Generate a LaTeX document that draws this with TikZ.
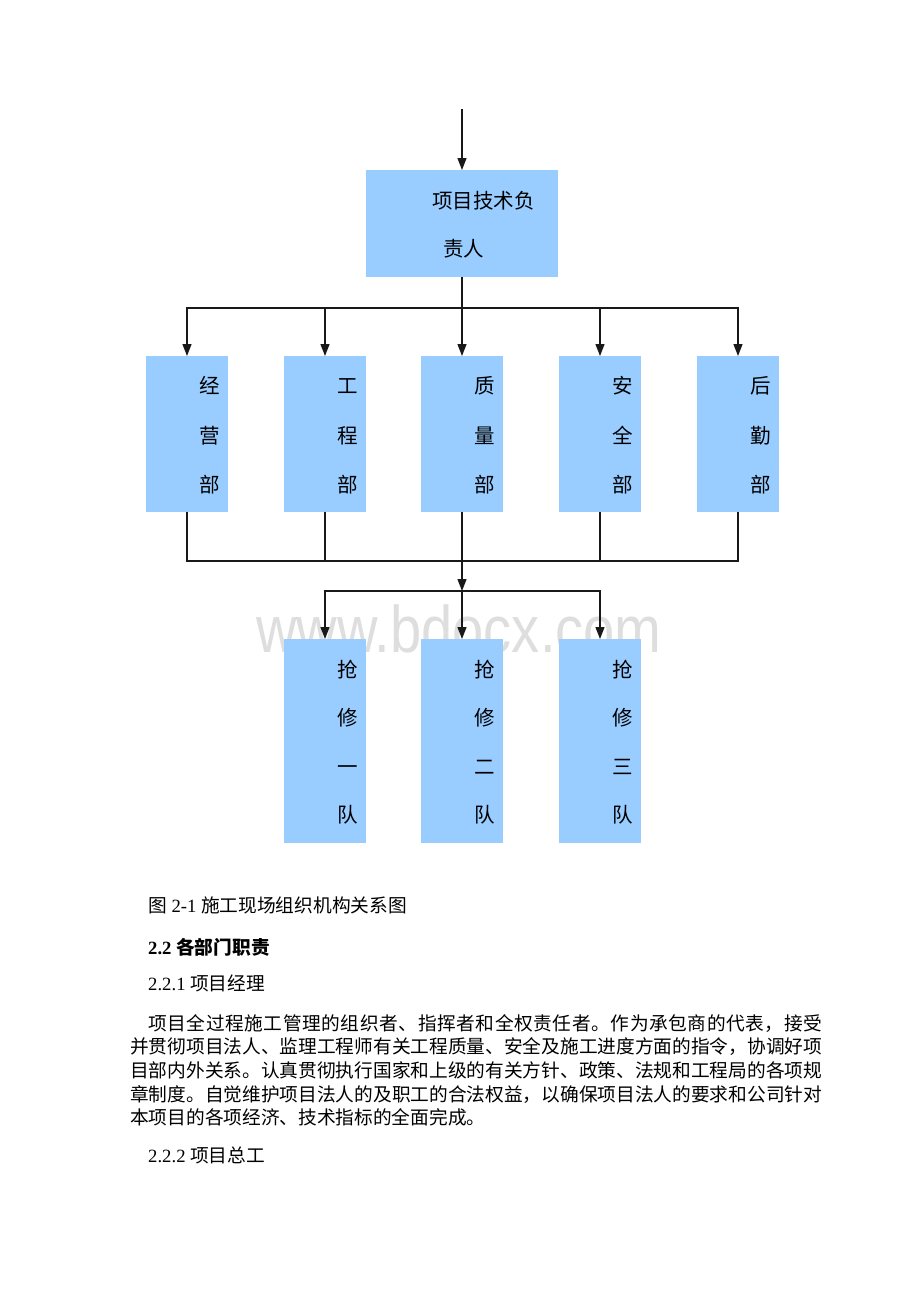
\documentclass[tikz,border=0pt]{standalone}
\usepackage{fontspec}
\setmainfont{Liberation Serif}
\newfontfamily\cjk{Noto Sans CJK SC}
\newfontfamily\wmfont{Liberation Sans}
\usetikzlibrary{arrows.meta}
\definecolor{boxblue}{RGB}{153,204,255}
\definecolor{linec}{RGB}{25,25,25}
\newcommand\zh[1]{{\cjk #1}}
\newcommand\SpreadLine[2]{\hbox to #1{\SpreadA#2\relax}}
\def\SpreadA#1{#1\SpreadB}
\def\SpreadB#1{\ifx#1\relax\else\hfil#1\expandafter\SpreadB\fi}
\begin{document}
\begin{tikzpicture}[x=1pt,y=-1pt,
  box/.style={fill=boxblue,draw=none,inner sep=0pt,outer sep=0pt},
  dept/.style={box,minimum width=82pt,minimum height=156pt},
  team/.style={box,minimum width=82pt,minimum height=204pt},
  ln/.style={draw=linec,line width=1.3pt},
  arr/.style={ln,-{Triangle[width=9pt,length=12pt]}},
  lab/.style={font=\cjk\fontsize{20.5}{24}\selectfont,inner sep=0pt,anchor=base,text=black},
  body/.style={font=\fontsize{18.7}{22}\selectfont,inner sep=0pt,anchor=base west,text=black},
  pline/.style={body,font=\cjk\fontsize{18.7}{22}\selectfont},
]
\useasboundingbox (0,0) rectangle (920,1302);
\fill[white] (0,0) rectangle (920,1302);

% watermark (behind the boxes)
\node[text=black, opacity=0.13, font=\wmfont\fontsize{66}{70}\selectfont, inner sep=0pt, anchor=base] (wm) at (459,652) {\scalebox{0.85}[1]{www.bdocx.com}};

% top box
\coordinate (src) at (462,109);
\node[box,minimum width=192pt,minimum height=107pt] (top) at (462,223.5) {};
\node[lab,anchor=base west] (topa) at (432,208) {项目技术负};
\node[lab,anchor=base west] (topb) at (443,256) {责人};
\draw[arr] (src) -- (top.north);

% departments
\foreach \n/\x/\a/\b/\c in {d1/187/经/营/部, d2/325/工/程/部, d3/462/质/量/部, d4/600/安/全/部, d5/738/后/勤/部} {
  \node[dept] (\n) at (\x,434) {};
  \node[lab] (\n-a) at (\x+23,393) {\a};
  \node[lab] (\n-b) at (\x+23,443) {\b};
  \node[lab] (\n-c) at (\x+23,492) {\c};
}
\coordinate (b1) at (462,308);
\draw[ln] (top.south) -- (b1);
\foreach \n in {d1,d2,d3,d4,d5} \draw[arr] (b1) -| (\n.north);

% teams
\foreach \n/\x/\c in {q1/325/一, q2/462/二, q3/600/三} {
  \node[team] (\n) at (\x,741) {};
  \node[lab] (\n-a) at (\x+23,677) {抢};
  \node[lab] (\n-b) at (\x+23,725) {修};
  \node[lab] (\n-c) at (\x+23,774) {\c};
  \node[lab] (\n-d) at (\x+23,822) {队};
}
\coordinate (b2) at (462,561);
\coordinate (b3) at (462,591);
\foreach \n in {d1,d2,d3,d4,d5} \draw[ln] (\n.south) |- (b2);
\draw[arr] (b2) -- (b3);
\foreach \n in {q1,q2,q3} \draw[arr] (b3) -| (\n.north);

% text below
\node[body] (cap) at (148,912) {\zh{图} 2-1 \zh{施工现场组织机构关系图}};
\node[body,font=\bfseries\fontsize{18.7}{22}\selectfont] (h22) at (148,954) {2.2 \zh{\bfseries 各部门职责}};
\node[body] (h221) at (148,990) {2.2.1 \zh{项目经理}};
\node[pline] (p1) at (148,1030) {\SpreadLine{674pt}{项目全过程施工管理的组织者、指挥者和全权责任者。作为承包商的代表，接受}};
\node[pline] (p2) at (130,1053) {\SpreadLine{692pt}{并贯彻项目法人、监理工程师有关工程质量、安全及施工进度方面的指令，协调好项}};
\node[pline] (p3) at (130,1077) {\SpreadLine{692pt}{目部内外关系。认真贯彻执行国家和上级的有关方针、政策、法规和工程局的各项规}};
\node[pline] (p4) at (130,1101) {\SpreadLine{692pt}{章制度。自觉维护项目法人的及职工的合法权益，以确保项目法人的要求和公司针对}};
\node[pline] (p5) at (130,1124) {本项目的各项经济、技术指标的全面完成。};
\node[body] (h222) at (148,1162) {2.2.2 \zh{项目总工}};
\end{tikzpicture}
\end{document}
